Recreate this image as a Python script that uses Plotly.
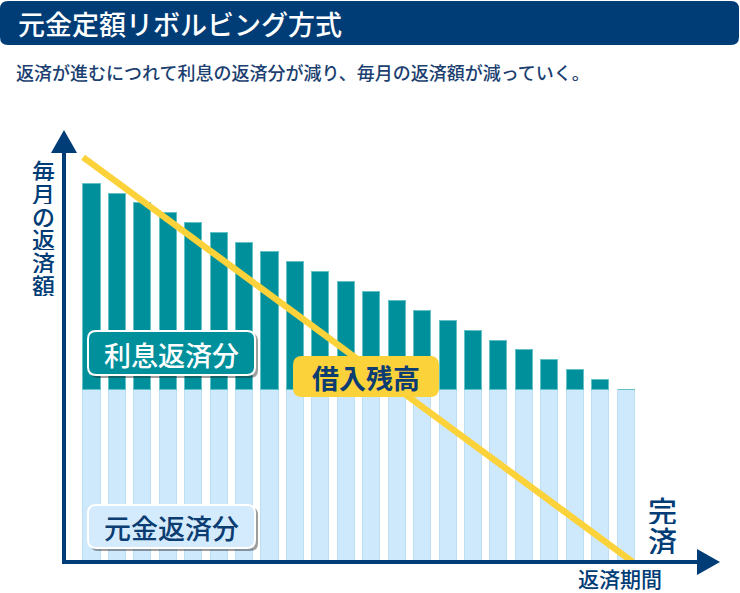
import plotly.graph_objects as go

# ---- data ----
periods = [1, 2, 3, 4, 5, 6, 7, 8, 9, 10, 11, 12, 13, 14, 15, 16, 17, 18, 19, 20, 21, 22]
principal = [17.6, 17.6, 17.6, 17.6, 17.6, 17.6, 17.6, 17.6, 17.6, 17.6, 17.6,
             17.6, 17.6, 17.6, 17.6, 17.6, 17.6, 17.6, 17.6, 17.6, 17.6, 17.6]
interest = [21, 20, 19, 18, 17, 16, 15, 14, 13, 12, 11, 10, 9, 8, 7, 6, 5, 4, 3, 2, 1, 0]
balance_period = [0.65, 22.27]
balance = [41.3, 0.0]

title = "元金定額リボルビング方式"
subtitle = "返済が進むにつれて利息の返済分が減り、毎月の返済額が減っていく。"
y_title = "毎月の返済額"
x_title = "返済期間"

# ---- style ----
NAVY = "#003c76"
TEAL = "#00909b"
LIGHT = "#cee9fb"
YELLOW = "#fcd23a"
FONT = "Noto Sans CJK JP"

W, H = 740, 593
L, R, T, B = 64, 720, 130, 562


def px(x):
    return (x - L) / (R - L)


def py(y):
    return (B - y) / (B - T)


def rrect(x0, y0, x1, y1, r, fill, line_color=None, line_width=0):
    X0, X1 = px(x0), px(x1)
    Y0, Y1 = py(y0), py(y1)
    rx = r / (R - L)
    ry = r / (B - T)
    path = (f"M {X0+rx},{Y0} L {X1-rx},{Y0} Q {X1},{Y0} {X1},{Y0-ry} "
            f"L {X1},{Y1+ry} Q {X1},{Y1} {X1-rx},{Y1} L {X0+rx},{Y1} "
            f"Q {X0},{Y1} {X0},{Y1+ry} L {X0},{Y0-ry} Q {X0},{Y0} {X0+rx},{Y0} Z")
    d = dict(type="path", xref="paper", yref="paper", path=path,
             fillcolor=fill, layer="above")
    if line_color:
        d["line"] = dict(color=line_color, width=line_width)
    else:
        d["line"] = dict(width=0)
    return d


def txt(x, y, s, size, color, weight=500, xanchor="center", height=None):
    d = dict(x=px(x), y=py(y), xref="paper", yref="paper", text=s,
             showarrow=False, xanchor=xanchor, yanchor="middle", borderpad=0,
             font=dict(family=FONT, size=size, color=color, weight=weight))
    if height:
        d["height"] = height
    return d


fig = go.Figure()
fig.add_trace(go.Bar(x=periods, y=principal, width=0.67, marker=dict(
    color=LIGHT, line=dict(color="#bcdff5", width=1)), name="元金返済分"))
fig.add_trace(go.Bar(x=periods, y=interest, width=0.67, marker=dict(
    color=TEAL, line=dict(color="#63c1c8", width=1)), name="利息返済分"))
fig.add_trace(go.Scatter(x=balance_period, y=balance, mode="lines",
                         line=dict(color=YELLOW, width=6.5), name="借入残高"))

shapes = []
# banner
shapes.append(rrect(0, 1, 739, 45, 8, NAVY))
# axes
shapes.append(dict(type="line", xref="paper", yref="paper", x0=0, y0=py(B), x1=px(705), y1=py(B),
                   line=dict(color=NAVY, width=4), layer="above"))
shapes.append(dict(type="line", xref="paper", yref="paper", x0=0, y0=py(B + 2), x1=0, y1=py(145),
                   line=dict(color=NAVY, width=4), layer="above"))
shapes.append(dict(type="path", xref="paper", yref="paper",
                   path=f"M {px(51)},{py(153)} L {px(64)},{py(130)} L {px(77)},{py(153)} Z",
                   fillcolor=NAVY, line=dict(width=0), layer="above"))
shapes.append(dict(type="path", xref="paper", yref="paper",
                   path=f"M {px(697)},{py(549)} L {px(720)},{py(562)} L {px(697)},{py(575)} Z",
                   fillcolor=NAVY, line=dict(width=0), layer="above"))
# label boxes with shadows
shapes.append(rrect(90, 333, 258, 378, 8, "rgba(40,40,40,0.45)"))
shapes.append(rrect(88, 331, 255, 375, 8, TEAL, "white", 2))
shapes.append(rrect(90, 507, 258, 551, 8, "rgba(40,40,40,0.45)"))
shapes.append(rrect(88, 505, 255, 548, 8, "#d3ebfc", "white", 2))
shapes.append(rrect(293, 356, 439, 397, 9, YELLOW))

ann = []
ann.append(txt(17, 23, title, 27, "white", 500, "left"))
ann.append(txt(15, 72, subtitle, 18, "#1b3f70", 500, "left"))
ann.append(txt(171, 354, "利息返済分", 27, "white"))
ann.append(txt(171, 527, "元金返済分", 27, "#0b3c72"))
ann.append(txt(366, 377, "借入残高", 27, "#0b3c72", "bold"))
ann.append(txt(662, 509, "完", 29, NAVY, height=29))
ann.append(txt(662, 539, "済", 29, NAVY, height=29))
ann.append(txt(620, 578, x_title, 21, NAVY))
for i, ch in enumerate(y_title):
    ann.append(txt(43, 170 + i * 23, ch, 23, NAVY, height=22))

fig.update_layout(
    width=W, height=H,
    margin=dict(l=L, r=W - R, t=T, b=H - B, pad=0),
    barmode="stack", bargap=0,
    plot_bgcolor="white", paper_bgcolor="white",
    showlegend=False,
    xaxis=dict(range=[-0.101, 25.695], showgrid=False, zeroline=False,
               showticklabels=False, ticks="", showline=False, fixedrange=True),
    yaxis=dict(range=[0, 44.08], showgrid=False, zeroline=False,
               showticklabels=False, ticks="", showline=False, fixedrange=True),
    shapes=shapes, annotations=ann,
)

fig.write_html("out.html", config={"displayModeBar": False},
               post_script="document.body.style.margin='0';")
